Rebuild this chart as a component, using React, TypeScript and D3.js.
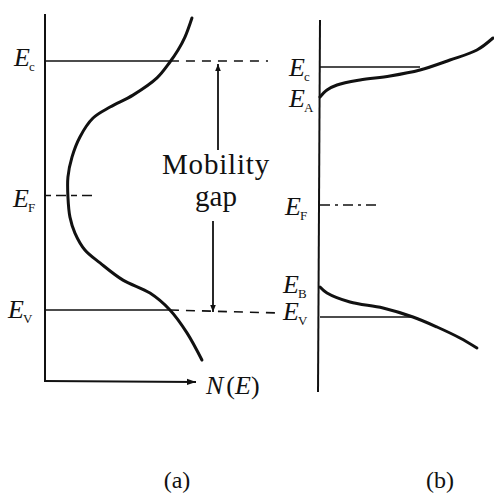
import React from "react";
import * as d3 from "d3";

// Energy levels (E normalised so that E_V = 0 and E_C = 1)
const levelsA = ["c", "F", "V"];
const energiesA = [1, 0.46, 0];
const levelsB = ["c", "A", "F", "B", "V"];
const energiesB = [1, 0.88, 0.448, 0.12, 0];

// Density of states N(E) for the amorphous band picture (a)
const dosA_N = [0.942, 0.897, 0.853, 0.801, 0.718, 0.564, 0.417, 0.308, 0.224, 0.173, 0.147, 0.147, 0.16, 0.192, 0.256, 0.353, 0.5, 0.673, 0.801, 0.91, 1.006];
const dosA_E = [1.173, 1.096, 1.044, 0.996, 0.932, 0.863, 0.815, 0.771, 0.695, 0.614, 0.534, 0.454, 0.373, 0.309, 0.241, 0.189, 0.12, 0.068, 0, -0.092, -0.201];

// Band tails for (b): conduction tail down to E_A, valence tail up to E_B
const tailC_N = [0, 0.045, 0.109, 0.256, 0.449, 0.641, 0.833, 1.006, 1.109];
const tailC_E = [0.88, 0.908, 0.928, 0.948, 0.964, 0.988, 1.028, 1.068, 1.116];
const tailV_N = [0, 0.045, 0.192, 0.404, 0.596, 0.75, 0.897, 1.006];
const tailV_E = [0.12, 0.096, 0.06, 0.036, 0, -0.04, -0.084, -0.124];

// Where the band-edge lines meet the DOS curves
const edgeCrossA = [0.801, 0.801];
const edgeCrossB = [0.641, 0.596];

const panelLabels = ["(a)", "(b)"];

const serif = "'Times New Roman', Tinos, 'Liberation Serif', 'DejaVu Serif', serif";

export default function App() {
  const yA = d3.scaleLinear().domain([0, 1]).range([310, 61]);
  const xA = d3.scaleLinear().domain([0, 1]).range([45, 201]);
  const yB = d3.scaleLinear().domain([0, 1]).range([317, 67]);
  const xB = d3.scaleLinear().domain([0, 1]).range([320, 476]);

  const lineA = d3
    .line<number>()
    .x((_, i) => xA(dosA_N[i]))
    .y((_, i) => yA(dosA_E[i]))
    .curve(d3.curveCatmullRom.alpha(0.5));
  const lineC = d3
    .line<number>()
    .x((_, i) => xB(tailC_N[i]))
    .y((_, i) => yB(tailC_E[i]))
    .curve(d3.curveCatmullRom.alpha(0.5));
  const lineV = d3
    .line<number>()
    .x((_, i) => xB(tailV_N[i]))
    .y((_, i) => yB(tailV_E[i]))
    .curve(d3.curveCatmullRom.alpha(0.5));

  const ink = "#111";
  const yEc = yA(energiesA[0]);
  const yEv = yA(energiesA[2]);
  const yEf = yA(energiesA[1]);

  const gapX = 216;

  const labelPosA = [
    { x: 14, y: 66 },
    { x: 13, y: 207 },
    { x: 8, y: 318 },
  ];
  const labelPosB = [
    { x: 289, y: 76 },
    { x: 289, y: 107 },
    { x: 285, y: 215 },
    { x: 283, y: 293 },
    { x: 283, y: 320 },
  ];

  const ELabel = ({ x, y, sub }: { x: number; y: number; sub: string }) => (
    <text x={x} y={y} fontFamily={serif} fill={ink}>
      <tspan fontStyle="italic" fontSize={26}>E</tspan>
      <tspan fontSize={13} dy={5} dx={-1}>{sub}</tspan>
    </text>
  );

  return (
    <svg
      width={494}
      height={496}
      viewBox="0 0 494 496"
      style={{ position: "absolute", left: 0, top: 0, background: "#fff" }}
    >
      <defs>
        <marker id="ah" viewBox="0 0 10 10" refX="10" refY="5" markerWidth="7" markerHeight="7" orient="auto-start-reverse" markerUnits="userSpaceOnUse">
          <path d="M0,1 L10,5 L0,9 Z" fill={ink} />
        </marker>
        <marker id="ahBig" viewBox="0 0 10 10" refX="10" refY="5" markerWidth="12" markerHeight="9" orient="auto" markerUnits="userSpaceOnUse">
          <path d="M0,1.5 L10,5 L0,8.5 Z" fill={ink} />
        </marker>
      </defs>

      {/* ---------- panel (a) ---------- */}
      {/* energy axis and N(E) axis */}
      <line x1={45} y1={14} x2={45} y2={381} stroke={ink} strokeWidth={2} />
      <line x1={44} y1={381} x2={196} y2={382} stroke={ink} strokeWidth={2} markerEnd="url(#ahBig)" />

      {/* E_C and E_V band edges: solid up to the curve, dashed across the gap */}
      <line x1={45} y1={yEc} x2={xA(edgeCrossA[0])} y2={yEc} stroke={ink} strokeWidth={1.6} />
      <line x1={xA(edgeCrossA[0])} y1={yEc} x2={268} y2={yEc} stroke={ink} strokeWidth={1.6} strokeDasharray="9,7" />
      <line x1={45} y1={yEv} x2={xA(edgeCrossA[1])} y2={yEv} stroke={ink} strokeWidth={1.6} />
      <line x1={xA(edgeCrossA[1])} y1={yEv} x2={278} y2={yEv + 3} stroke={ink} strokeWidth={1.6} strokeDasharray="9,7" />

      {/* Fermi level */}
      <line x1={45} y1={yEf} x2={97} y2={yEf} stroke={ink} strokeWidth={1.6} strokeDasharray="6,5,10,5" />

      {/* density of states */}
      <path d={lineA(dosA_N) ?? ""} fill="none" stroke={ink} strokeWidth={3} strokeLinecap="round" />

      {/* mobility gap arrows */}
      <line x1={gapX + 2} y1={150} x2={gapX + 2} y2={yEc + 3} stroke={ink} strokeWidth={1.8} markerEnd="url(#ah)" />
      <line x1={gapX - 3} y1={221} x2={gapX - 3} y2={yEv + 2} stroke={ink} strokeWidth={1.8} markerEnd="url(#ah)" />
      <text x={gapX} y={174} textAnchor="middle" fontFamily={serif} fontSize={29} letterSpacing={0.8} fill={ink}>
        Mobility
      </text>
      <text x={gapX} y={206} textAnchor="middle" fontFamily={serif} fontSize={29} fill={ink}>
        gap
      </text>

      {levelsA.map((s, i) => (
        <ELabel key={"a" + s} x={labelPosA[i].x} y={labelPosA[i].y} sub={s} />
      ))}

      <text x={206} y={394} fontFamily={serif} fontSize={26} fill={ink}>
        <tspan fontStyle="italic">N</tspan>
        <tspan dx={3}>(</tspan>
        <tspan fontStyle="italic">E</tspan>
        <tspan>)</tspan>
      </text>

      {/* ---------- panel (b) ---------- */}
      <line x1={320} y1={20} x2={318} y2={392} stroke={ink} strokeWidth={2} />
      <line x1={320} y1={yB(energiesB[0])} x2={xB(edgeCrossB[0])} y2={yB(energiesB[0])} stroke={ink} strokeWidth={1.6} />
      <line x1={320} y1={yB(energiesB[4])} x2={xB(edgeCrossB[1])} y2={yB(energiesB[4])} stroke={ink} strokeWidth={1.6} />
      <line x1={320} y1={yB(energiesB[2])} x2={378} y2={yB(energiesB[2])} stroke={ink} strokeWidth={1.6} strokeDasharray="10,5,3,5" />

      <path d={lineC(tailC_N) ?? ""} fill="none" stroke={ink} strokeWidth={3} strokeLinecap="round" />
      <path d={lineV(tailV_N) ?? ""} fill="none" stroke={ink} strokeWidth={3} strokeLinecap="round" />

      {levelsB.map((s, i) => (
        <ELabel key={"b" + s} x={labelPosB[i].x} y={labelPosB[i].y} sub={s} />
      ))}

      {/* panel captions */}
      <text x={177} y={488} textAnchor="middle" fontFamily={serif} fontSize={24} fill={ink}>
        {panelLabels[0]}
      </text>
      <text x={440} y={488} textAnchor="middle" fontFamily={serif} fontSize={24} fill={ink}>
        {panelLabels[1]}
      </text>
    </svg>
  );
}
